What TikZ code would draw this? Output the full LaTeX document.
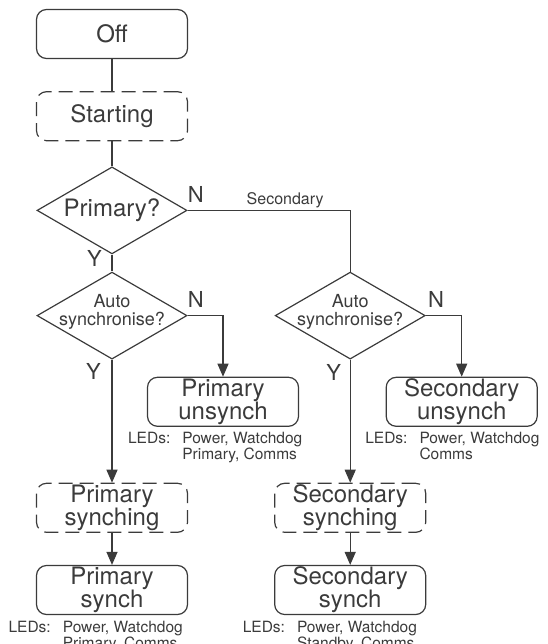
\documentclass[tikz,border=0pt]{standalone}
\usepackage{fontspec}
\setmainfont{TeX Gyre Heros}
\usetikzlibrary{arrows.meta,positioning,shapes.geometric}
\definecolor{ink}{HTML}{3B3B3B}
\newcommand{\ledlist}[2]{\begin{tabular}[t]{@{}l@{\hspace{12pt}}l@{}}LEDs: & #1\\ & #2\end{tabular}}

\begin{document}
\begin{tikzpicture}[
    node distance=17pt,
    every node/.style={text=ink},
    state/.style={rectangle, draw=ink, line width=1.2pt, rounded corners=10pt,
                  minimum width=151pt, minimum height=49pt, inner sep=1pt,
                  align=center, font=\fontsize{24}{23}\selectfont},
    transient/.style={state, dash pattern=on 14pt off 7pt},
    decision/.style={diamond, draw=ink, line width=1.2pt, minimum width=150pt,
                     minimum height=87pt, inner sep=0pt},
    qtext/.style={align=center, font=\fontsize{18}{18}\selectfont, inner sep=0pt},
    yn/.style={font=\fontsize{22}{22}\selectfont, inner sep=0pt},
    leds/.style={font=\fontsize{15.5}{15.5}\selectfont, inner sep=0pt},
    line/.style={draw=ink, line width=1.2pt},
    arrow/.style={line, -{Triangle[length=13pt,width=11pt]}},
  ]
  \useasboundingbox (0,0) rectangle (547pt,-644pt);

  \node[state] (off) at (112pt,-34pt) {Off};
  \node[transient, below=32pt of off] (starting) {Starting};
  \node[decision, below=25pt of starting] (primary) {};
  \node[qtext, font=\fontsize{24}{24}\selectfont] (primaryq) at (primary) {Primary?};

  \node[decision, below=17pt of primary] (auto1) {};
  \node[qtext, yshift=4pt] (auto1q) at (auto1) {Auto\\synchronise?};
  \node[decision, right=87pt of auto1] (auto2) {};
  \node[qtext, yshift=4pt] (auto2q) at (auto2) {Auto\\synchronise?};

  \node[state, below=17pt of auto1, xshift=111pt] (punsync) {Primary\\unsynch};
  \node[state, below=17pt of auto2, xshift=111.5pt] (sunsync) {Secondary\\unsynch};
  \node[transient, below=123pt of auto1] (psynching) {Primary\\synching};
  \node[transient, below=123pt of auto2] (ssynching) {Secondary\\synching};
  \node[state, below=32pt of psynching] (psynch) {Primary\\synch};
  \node[state, below=32pt of ssynching] (ssynch) {Secondary\\synch};

  % LED lists
  \node[leds, below right=16.5pt and -19pt of punsync.south west, anchor=base west] (punsyncleds) {\ledlist{Power, Watchdog}{Primary, Comms}};
  \node[leds, below right=16.5pt and -20.5pt of sunsync.south west, anchor=base west] (sunsyncleds) {\ledlist{Power, Watchdog}{Comms}};
  \node[leds, below right=17pt and -27.5pt of psynch.south west, anchor=base west] (psynchleds) {\ledlist{Power, Watchdog}{Primary, Comms}};
  \node[leds, below right=17pt and -31.5pt of ssynch.south west, anchor=base west] (ssynchleds) {\ledlist{Power, Watchdog}{Standby, Comms}};

  % yes / no
  \node[yn, above right=8pt and 0pt of primary.east] (primaryn) {N};
  \node[yn, below left=-4pt and 10pt of primary.south] (primaryy) {Y};
  \node[yn, above right=8pt and 0pt of auto1.east] (auto1n) {N};
  \node[yn, below left=4pt and 11pt of auto1.south] (auto1y) {Y};
  \node[yn, above right=8pt and 2pt of auto2.east] (auto2n) {N};
  \node[yn, below left=5pt and 9pt of auto2.south] (auto2y) {Y};

  \draw[line] (off) -- (starting);
  \draw[line] (starting) -- (primary);
  \draw[line] (primary) -- (auto1);
  \draw[line] (primary.east) -| node[pos=0.3, above, inner sep=2pt, font=\fontsize{16}{16}\selectfont] (secq) {Secondary} (auto2.north);
  \draw[arrow] (auto1.east) -| (punsync.north);
  \draw[arrow] (auto1) -- (psynching);
  \draw[arrow] (psynching) -- (psynch);
  \draw[arrow] (auto2.east) -| (sunsync.north);
  \draw[arrow] (auto2) -- (ssynching);
  \draw[arrow] (ssynching) -- (ssynch);
\end{tikzpicture}
\end{document}
